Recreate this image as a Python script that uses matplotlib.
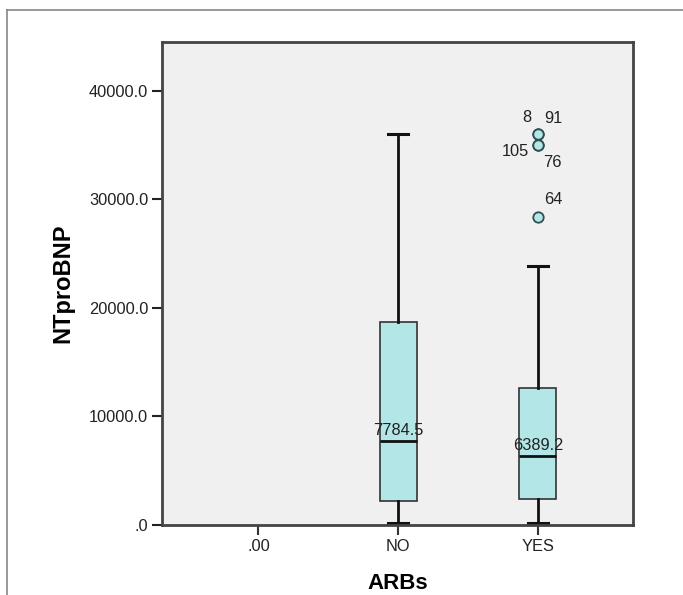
import matplotlib
matplotlib.use("Agg")
import matplotlib.pyplot as plt
from matplotlib.lines import Line2D

plt.rcParams['font.family'] = ['Liberation Sans', 'DejaVu Sans']

# data
categories = ['.00', 'NO', 'YES']
box_pos = [1, 2]
whislo = [150, 150]
q1 = [2200, 2400]
med = [7784.5, 6389.2]
q3 = [18700, 12650]
whishi = [36000, 23850]
med_labels = ['7784.5', '6389.2']

out_y = [36050, 36000, 35050, 35000, 28400]
out_ids = ['8', '91', '105', '76', '64']
yticks = [0, 10000, 20000, 30000, 40000]
ytick_labels = ['.0', '10000.0', '20000.0', '30000.0', '40000.0']

fig = plt.figure(figsize=(6.83, 5.95), dpi=100)
ax = fig.add_axes([162/683, 1 - 525/595, (633-162)/683, (525-42)/595])
ax.set_facecolor('#f0f0f0')

stats = []
for i in range(len(box_pos)):
    stats.append(dict(whislo=whislo[i], q1=q1[i], med=med[i], q3=q3[i],
                      whishi=whishi[i], fliers=[]))

ax.bxp(stats, positions=box_pos, widths=0.265, patch_artist=True,
       showfliers=False, capwidths=0.14,
       boxprops=dict(facecolor='#b3e6e6', edgecolor='#333333', linewidth=1.2),
       medianprops=dict(color='#111111', linewidth=2),
       whiskerprops=dict(color='#111111', linewidth=2),
       capprops=dict(color='#111111', linewidth=2.2))

# outliers in YES group
ax.plot([2]*len(out_y), out_y, 'o', markersize=7.5, markerfacecolor='#b3e6e6',
        markeredgecolor='#2f4f4f', markeredgewidth=1.3, zorder=5)

offsets = [(-11, 16), (15, 16), (-23, -7), (14, -17), (15, 17)]
for yv, lab, (dx, dy) in zip(out_y, out_ids, offsets):
    ax.annotate(lab, (2, yv), xytext=(dx, dy), textcoords='offset pixels',
                ha='center', va='center', fontsize=11.8, color='#222222')

for x, m, lab in zip(box_pos, med, med_labels):
    ax.annotate(lab, (x, m), xytext=(0, 6), textcoords='offset pixels',
                ha='center', va='baseline', fontsize=11.8, color='#222222')

ax.set_xlim(-0.69, 2.68)
ax.set_ylim(0, 44500)
ax.set_xticks(range(len(categories)))
ax.set_xticklabels(categories)
ax.set_yticks(yticks)
ax.set_yticklabels(ytick_labels)
ax.tick_params(axis='both', labelsize=11.8, colors='#222222', length=7,
               width=1.5, pad=3)
ax.tick_params(axis='x', color='#333333')

for s in ax.spines.values():
    s.set_color('#444444')
    s.set_linewidth(2)

ax.set_xlabel('ARBs', fontsize=16, fontweight='bold', labelpad=14)
ax.set_ylabel('NTproBNP', fontsize=17, fontweight='bold', labelpad=10)

# outer frame lines
fig.add_artist(Line2D([7/683, 1], [1 - 10/595, 1 - 10/595], color='#888888', linewidth=1.2))
fig.add_artist(Line2D([7/683, 7/683], [0, 1 - 10/595], color='#888888', linewidth=1.2))

fig.savefig('out.png', dpi=100)
